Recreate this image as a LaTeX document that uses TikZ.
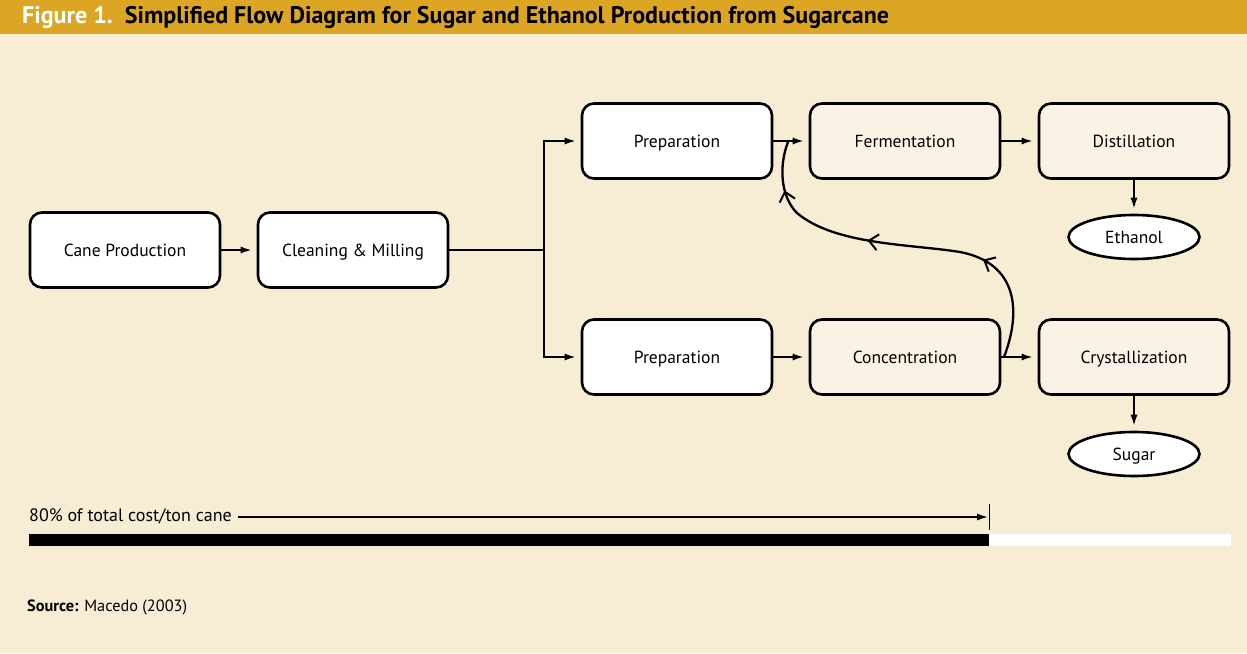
\documentclass[tikz,border=0pt]{standalone}
\usepackage{fontspec}
\setmainfont{PT Sans}
\usetikzlibrary{arrows.meta,decorations.markings,shapes.geometric}
\definecolor{gold}{HTML}{DCA624}
\definecolor{bg}{HTML}{F7EDD5}
\definecolor{lightbox}{HTML}{FAF3E5}
\tikzset{barbtip/.tip={Straight Barb[length=9pt,width=16pt,line width=2pt]}}
\begin{document}
\begin{tikzpicture}[x=1pt,y=-1pt,
  box/.style={draw, line width=2.6pt, rounded corners=12pt, minimum width=190pt, minimum height=75pt, fill=white, font=\fontsize{17.5}{21}\selectfont, inner sep=0pt, text height=12.5pt, text depth=0pt},
  lbox/.style={box, fill=lightbox},
  prod/.style={draw, ellipse, line width=2.6pt, fill=white, minimum width=131pt, minimum height=44pt, font=\fontsize{17.5}{21}\selectfont, inner sep=0pt, text height=12.5pt, text depth=0pt},
  flow/.style={line width=2.6pt, -{Latex[length=12pt,width=7pt]}, shorten >=4pt}]
\useasboundingbox (0,0) rectangle (1247,653);
\fill[bg] (0,0) rectangle (1247,653);
\fill[gold] (0,0) rectangle (1247,34);
\node[anchor=west, font=\fontsize{24}{26}\selectfont\bfseries, inner sep=0pt] (title) at (22,17) {\textcolor{white}{Figure 1.}\hspace{0.5em}Simplified Flow Diagram for Sugar and Ethanol Production from Sugarcane};

\node[box] (cane) at (125,250) {Cane Production};
\node[box] (clean) at (353,250) {Cleaning \& Milling};
\node[box] (prep1) at (677,141) {Preparation};
\node[lbox] (ferm) at (905,141) {Fermentation};
\node[lbox] (dist) at (1134,141) {Distillation};
\node[box] (prep2) at (677,357) {Preparation};
\node[lbox] (conc) at (905,357) {Concentration};
\node[lbox] (cryst) at (1134,357) {Crystallization};
\node[prod] (eth) at (1134,237) {Ethanol};
\node[prod] (sugar) at (1134,454) {Sugar};

\coordinate (fork) at (544,250);
\draw[flow] (cane) -- (clean);
\draw[line width=2.6pt] (clean.east) -- (fork);
\draw[flow] (fork) |- (prep1.west);
\draw[flow] (fork) |- (prep2.west);
\draw[flow] (prep1) -- (ferm);
\draw[flow] (ferm) -- (dist);
\draw[flow] (prep2) -- (conc);
\draw[flow] (conc) -- (cryst);
\draw[flow] (dist) -- (eth);
\draw[flow] (cryst) -- (sugar);

\coordinate (cstart) at (1004,357);
\coordinate (cend) at (788,142);
\draw[line width=2.3pt, postaction={decorate}, decoration={markings,
   mark=at position 0.29 with {\arrow{barbtip}},
   mark=at position 0.6 with {\arrow{barbtip}},
   mark=at position 0.87 with {\arrow{barbtip}}}]
  (cstart) .. controls (1022,310) and (1017,263) .. (960,252)
  .. controls (910,244) and (835,245) .. (797,213)
  .. controls (780,196) and (779,165) .. (cend);

\node[anchor=west, font=\fontsize{18}{21}\selectfont, inner sep=0pt] (cost) at (29,516) {80\% of total cost/ton cane};
\coordinate (costend) at (989,517);
\draw[line width=2.3pt, -{Latex[length=12pt,width=7pt]}, shorten <=6pt] (cost.east |- costend) -- (costend);
\draw[line width=1pt] (989,504) -- (989,530);
\fill[black] (29,534) rectangle (989,546);
\fill[white] (989,534) rectangle (1231,546);

\node[anchor=west, font=\fontsize{16.3}{19}\selectfont, inner sep=0pt] (src) at (27,607) {\textbf{Source:} Macedo (2003)};
\end{tikzpicture}
\end{document}
